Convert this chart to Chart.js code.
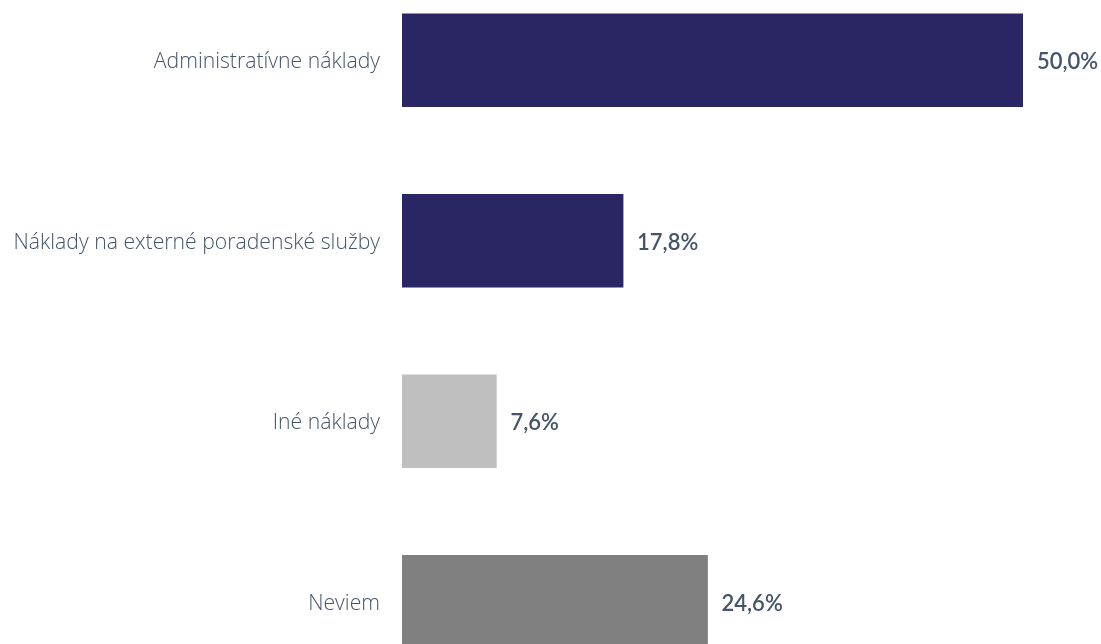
<!DOCTYPE html>
<html>
<head>
<meta charset="utf-8">
<script src="https://cdn.jsdelivr.net/npm/chart.js@4"></script>
<style>
  html, body { margin: 0; padding: 0; background: #fff; overflow: hidden; }
  #wrap { position: absolute; left: 0; top: -30px; width: 1101px; height: 722px; }
</style>
</head>
<body>
<div id="wrap"><canvas id="chart"></canvas></div>
<script>
// Data
const categories = ['Administratívne náklady', 'Náklady na externé poradenské služby', 'Iné náklady', 'Neviem'];
const values = [50.0, 17.8, 7.6, 24.6];
const barColors = ['#2a2563', '#2a2563', '#bfbfbf', '#808080'];

// draws the value text to the right of each bar
const valueLabels = {
    id: 'valueLabels',
    afterDatasetsDraw(chart) {
        const ctx = chart.ctx;
        const meta = chart.getDatasetMeta(0);
        ctx.save();
        ctx.font = '600 22px Lato, "Open Sans", sans-serif';
        ctx.fillStyle = '#44546a';
        ctx.textAlign = 'left';
        ctx.textBaseline = 'middle';
        meta.data.forEach(function(bar, i) {
            const txt = values[i].toFixed(1).replace('.', ',') + '%';
            ctx.fillText(txt, bar.x + 14, bar.y + 2);
        });
        ctx.restore();
    }
};

new Chart(document.getElementById('chart'), {
    type: 'bar',
    data: {
        labels: categories,
        datasets: [{
            data: values,
            backgroundColor: barColors,
            borderWidth: 0,
            barThickness: 93
        }]
    },
    options: {
        indexAxis: 'y',
        responsive: true,
        maintainAspectRatio: false,
        animation: false,
        layout: { padding: { left: 0, right: 78, top: 0, bottom: 0 } },
        plugins: {
            legend: { display: false },
            tooltip: { enabled: false }
        },
        scales: {
            x: {
                min: 0,
                max: 50,
                display: false
            },
            y: {
                grid: { display: false, drawTicks: false },
                border: { display: false },
                afterFit: function(scale) {
                    // fixed label column, no extra room above/below
                    scale.width = 402;
                    scale.paddingTop = 0;
                    scale.paddingBottom = 0;
                },
                ticks: {
                    color: '#44546a',
                    padding: 22,
                    labelOffset: 2,
                    font: { family: '"Open Sans", sans-serif', size: 21.2, weight: 300 }
                }
            }
        }
    },
    plugins: [valueLabels]
});
</script>
</body>
</html>
